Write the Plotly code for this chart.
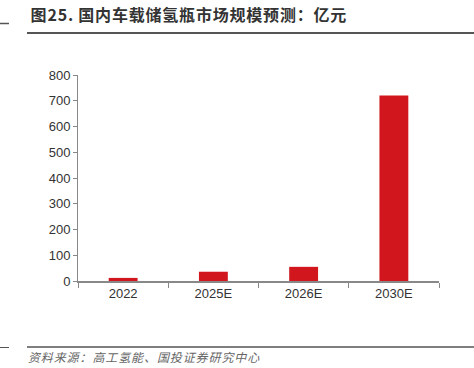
import plotly.graph_objects as go

categories = ["2022", "2025E", "2026E", "2030E"]
values = [12, 36, 55, 720]
y_ticks = [0, 100, 200, 300, 400, 500, 600, 700, 800]

W, H = 474, 368
L, R, T, B = 78, 439, 75, 281

def px(x):
    return (x - L) / (R - L)

def py(y):
    return (B - y) / (B - T)

fig = go.Figure(go.Bar(x=categories, y=values, marker_color="#D2161E",
                       marker_line_width=0))

fig.update_layout(
    width=W, height=H, autosize=False,
    margin=dict(l=L, r=W - R, t=T, b=H - B, pad=0),
    paper_bgcolor="white", plot_bgcolor="white",
    bargap=0.68, showlegend=False,
    font=dict(family="Liberation Sans, Arial, sans-serif", size=13, color="#333333"),
)
fig.update_xaxes(type="category", tickson="boundaries", ticks="outside", ticklen=5,
                 tickcolor="#888888", showline=True, linecolor="#888888", linewidth=1.5,
                 showgrid=False, tickfont=dict(size=13, color="#333333"))
fig.update_yaxes(range=[0, 800], tickvals=y_ticks, ticks="outside", ticklen=4,
                 tickcolor="#888888", showline=True, linecolor="#888888", linewidth=1,
                 showgrid=False, zeroline=False, tickfont=dict(size=13, color="#333333"))

shapes = [
    dict(type="line", xref="paper", yref="paper", x0=px(0), x1=px(9), y0=py(23.5), y1=py(23.5),
         line=dict(color="#555555", width=1.5)),
    dict(type="line", xref="paper", yref="paper", x0=px(27), x1=px(474), y0=py(33), y1=py(33),
         line=dict(color="#555555", width=2)),
    dict(type="line", xref="paper", yref="paper", x0=px(0), x1=px(9), y0=py(347.5), y1=py(347.5),
         line=dict(color="#555555", width=1)),
    dict(type="line", xref="paper", yref="paper", x0=px(27), x1=px(474), y0=py(347), y1=py(347),
         line=dict(color="#555555", width=1.5)),
]
fig.update_layout(shapes=shapes)

fig.add_annotation(xref="paper", yref="paper", x=px(36.5), y=py(14), xanchor="left", yanchor="middle",
                   text="图25. 国内车载储氢瓶市场规模预测：亿元", showarrow=False,
                   font=dict(family="Noto Sans CJK SC", size=16, color="#333333", weight=600))
fig.add_annotation(xref="paper", yref="paper", x=px(34), y=py(356), xanchor="left", yanchor="middle",
                   text="<i>资料来源：高工氢能、国投证券研究中心</i>", showarrow=False,
                   font=dict(family="Noto Sans CJK SC", size=12, color="#666666"))

post = (
    "document.body.style.margin='0';document.body.style.overflow='hidden';"
    "var t=document.querySelectorAll('.annotation-text');"
    "if(t.length>0){t[0].style.letterSpacing='0.8px';}"
    "if(t.length>1){t[1].style.letterSpacing='0.9px';}"
)
fig.write_html("out.html", post_script=post, config={"displayModeBar": False})
